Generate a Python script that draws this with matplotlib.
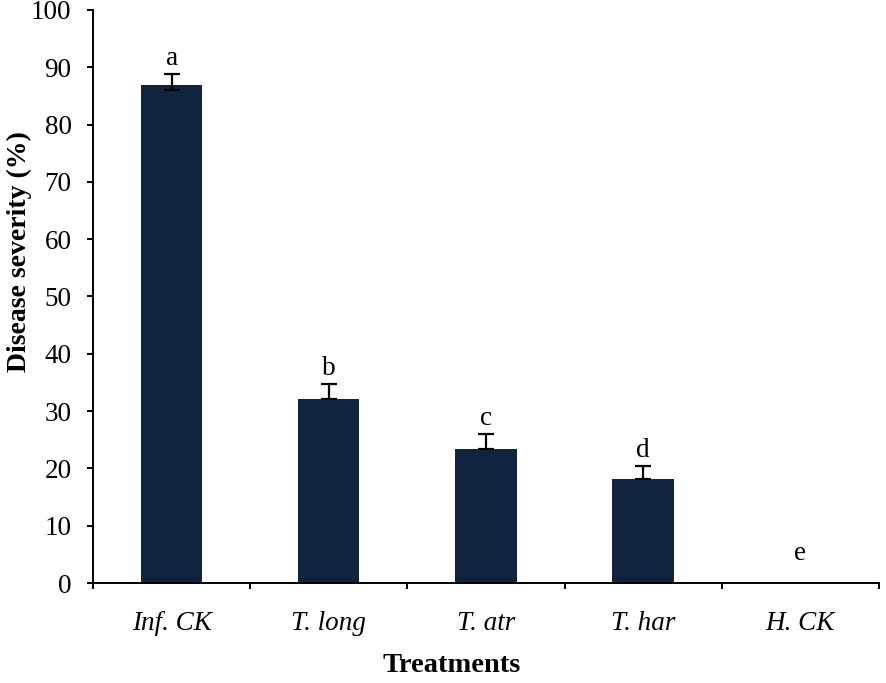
import numpy as np
import matplotlib
matplotlib.use("Agg")
import matplotlib.pyplot as plt

# datos
treatments = ["Inf. CK", "T. long", "T. atr", "T. har", "H. CK"]
severity = [86.9, 32.1, 23.4, 18.1, 0.0]
err_low = [0.9, 0.0, 0.0, 0.0, 0.0]
err_high = [1.9, 2.6, 2.6, 2.3, 0.0]
letters = ["a", "b", "c", "d", "e"]

plt.rcParams["font.family"] = ["Liberation Serif", "DejaVu Serif"]

fig = plt.figure(figsize=(8.86, 6.83), dpi=100)
ax = fig.add_axes([0.105, 0.1464, 0.887, 0.839])

x = np.arange(len(treatments))
ax.bar(x, severity, width=0.39, color="#10233f", zorder=2)
ax.errorbar(x[:4], severity[:4], yerr=[err_low[:4], err_high[:4]], fmt="none",
            ecolor="black", elinewidth=1.6, capsize=5.5, capthick=1.6, zorder=3)

# letras de significancia
for i, lab in enumerate(letters):
    top = max(severity[i] + err_high[i], 2.4)
    ax.text(x[i], top + 1.6, lab, ha="center", va="baseline", fontsize=19.5)

ax.set_xlim(-0.5, 4.5)
ax.set_ylim(0, 100)
ax.set_yticks(np.arange(0, 101, 10))
ax.set_xticks(x)
ax.set_xticklabels(treatments, fontstyle="italic")
ax.set_xticks(np.arange(-0.5, 4.6, 1), minor=True)

ax.tick_params(axis="y", which="major", length=4.5, width=1.4, pad=11, labelsize=19.5)
ax.tick_params(axis="x", which="major", length=0, pad=20, labelsize=19.5)
ax.tick_params(axis="x", which="minor", length=4.5, width=1.4, direction="out")

for s in ["top", "right"]:
    ax.spines[s].set_visible(False)
for s in ["left", "bottom"]:
    ax.spines[s].set_linewidth(1.4)

ax.set_xlabel("Treatments", fontsize=20.5, fontweight="bold")
ax.set_ylabel("Disease severity (%)", fontsize=20, fontweight="bold")
ax.xaxis.set_label_coords(0.457, -0.122)
ax.yaxis.set_label_coords(-0.078, 0.579)

fig.savefig("out.png", dpi=100)
